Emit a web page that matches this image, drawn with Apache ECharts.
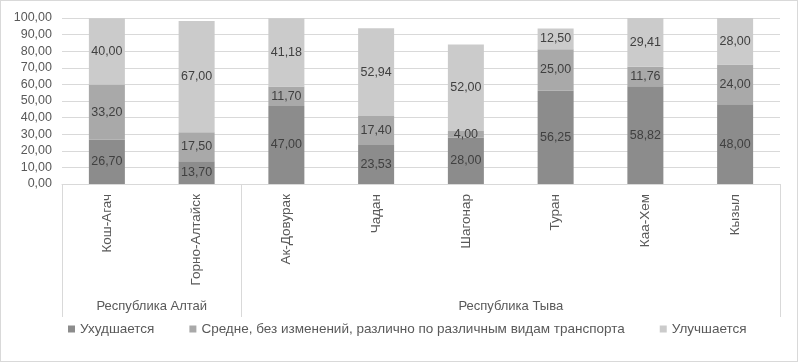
<!DOCTYPE html>
<html>
<head>
<meta charset="utf-8">
<script src="https://cdn.jsdelivr.net/npm/echarts@6/dist/echarts.min.js"></script>
<style>
  html, body { margin: 0; padding: 0; background: #fff; }
  #chart { width: 798px; height: 362px; box-sizing: border-box; border: 1px solid #d9d9d9; }
</style>
</head>
<body>
<div id="chart"></div>
<script>
  // data
  const groups = ['Республика Алтай', 'Республика Тыва'];
  const groupSizes = [2, 6];
  const cities = ['Кош-Агач', 'Горно-Алтайск', 'Ак-Довурак', 'Чадан', 'Шагонар', 'Туран', 'Каа-Хем', 'Кызыл'];
  const seriesNames = ['Ухудшается', 'Средне, без изменений, различно по различным видам транспорта', 'Улучшается'];
  const worse = [26.70, 13.70, 47.00, 23.53, 28.00, 56.25, 58.82, 48.00];
  const same = [33.20, 17.50, 11.70, 17.40, 4.00, 25.00, 11.76, 24.00];
  const better = [40.00, 67.00, 41.18, 52.94, 52.00, 12.50, 29.41, 28.00];
  const yMin = 0, yMax = 100, yStep = 10;

  const colors = ['#8c8c8c', '#a9a9a9', '#cbcbcb'];
  const textColor = '#595959';
  const fmt = v => Number(v).toFixed(2).replace('.', ',');

  // group boundaries / centers on a 0..n value scale laid over the categories
  let bounds = [0], centers = [];
  groupSizes.forEach(n => {
    const start = bounds[bounds.length - 1];
    centers.push(start + n / 2);
    bounds.push(start + n);
  });

  const chart = echarts.init(document.getElementById('chart'));

  function barSeries(name, data, i) {
    return {
      name: name,
      type: 'bar',
      stack: 'total',
      barWidth: 36,
      color: colors[i],
      label: {
        show: true,
        position: 'inside',
        color: '#404040',
        fontSize: 12.5,
        fontFamily: 'Liberation Sans',
        formatter: p => fmt(p.value)
      },
      data: data
    };
  }

  const option = {
    animation: false,
    textStyle: { fontFamily: 'Liberation Sans' },
    grid: { left: 61, right: 17, top: 17, bottom: 177 },
    legend: {
      bottom: 20,
      left: 62,
      icon: 'rect',
      itemWidth: 7,
      itemHeight: 7,
      itemGap: 35,
      textStyle: { color: textColor, fontSize: 13.5 },
      data: seriesNames
    },
    xAxis: [
      {
        type: 'category',
        data: cities,
        axisLine: { lineStyle: { color: '#d9d9d9' } },
        axisTick: { show: false },
        axisLabel: { rotate: 90, margin: 10, color: textColor, fontSize: 13.5 }
      },
      {
        type: 'value',
        position: 'bottom',
        min: 0,
        max: cities.length,
        splitLine: { show: false },
        axisLine: { show: false },
        axisTick: {
          show: true,
          customValues: bounds,
          length: 133,
          lineStyle: { color: '#d9d9d9' }
        },
        axisLabel: {
          customValues: centers,
          margin: 116,
          color: textColor,
          fontSize: 13,
          formatter: v => groups[centers.indexOf(v)]
        }
      }
    ],
    yAxis: {
      type: 'value',
      min: yMin,
      max: yMax,
      interval: yStep,
      axisLine: { show: false },
      axisTick: { show: false },
      splitLine: { lineStyle: { color: '#d9d9d9' } },
      axisLabel: { color: textColor, fontSize: 12.5, margin: 10, formatter: fmt }
    },
    series: [
      barSeries(seriesNames[0], worse, 0),
      barSeries(seriesNames[1], same, 1),
      barSeries(seriesNames[2], better, 2)
    ]
  };

  chart.setOption(option);
</script>
</body>
</html>
